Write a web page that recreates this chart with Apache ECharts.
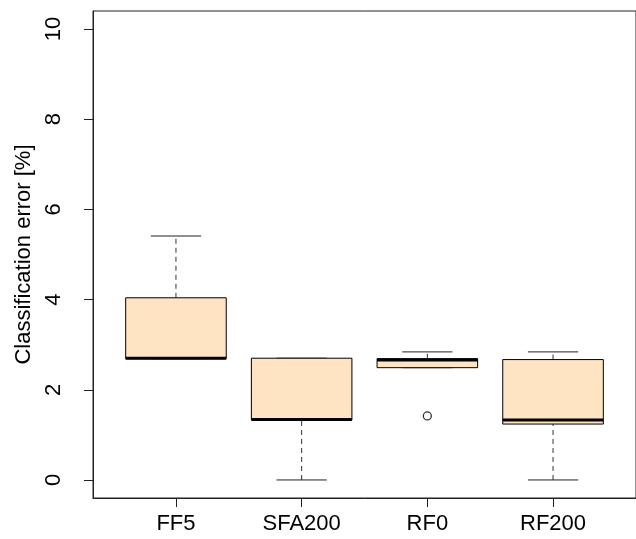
<!DOCTYPE html>
<html>
<head>
<meta charset="utf-8">
<title>Classification error</title>
<script src="https://cdn.jsdelivr.net/npm/echarts@6/dist/echarts.min.js"></script>
<style>
	html, body {
		margin: 0;
		padding: 0;
		background: #fff;
	}

	#chart {
		width: 636px;
		height: 539px;
	}
</style>
</head>
<body>
<div id="chart"></div>
<script>
	var categories = ['FF5', 'SFA200', 'RF0', 'RF200'];
	var minVals = [2.69, 0, 2.49, 0];
	var q1Vals = [2.69, 1.33, 2.49, 1.24];
	var medianVals = [2.70, 1.34, 2.66, 1.33];
	var q3Vals = [4.04, 2.70, 2.69, 2.67];
	var maxVals = [5.41, 2.70, 2.84, 2.84];
	// outliers: [group number, value]
	var outliers = [[3, 1.42]];
	var xTicks = [1, 2, 3, 4];
	var yTicks = [0, 2, 4, 6, 8, 10];

	var font = '"Liberation Sans", Arial, Helvetica, sans-serif';

	var boxData = categories.map(function(name, i) {
		return [i + 1, minVals[i], q1Vals[i], medianVals[i], q3Vals[i], maxVals[i]];
	});

	// R style box: dashed whiskers, staples, filled box, thick median
	function renderBox(params, api) {
		var x = api.value(0);
		var halfW = api.size([0.8, 0])[0] / 2;
		var pMin = api.coord([x, api.value(1)]);
		var pQ1 = api.coord([x, api.value(2)]);
		var pMed = api.coord([x, api.value(3)]);
		var pQ3 = api.coord([x, api.value(4)]);
		var pMax = api.coord([x, api.value(5)]);
		var cx = pMin[0];
		var dashed = {
			stroke: '#333',
			lineWidth: 1,
			lineDash: [5, 4]
		};
		var solid = {
			stroke: '#222',
			lineWidth: 1
		};
		return {
			type: 'group',
			children: [{
				type: 'line',
				shape: { x1: cx, y1: pQ3[1], x2: cx, y2: pMax[1] },
				style: dashed
			}, {
				type: 'line',
				shape: { x1: cx, y1: pMin[1], x2: cx, y2: pQ1[1] },
				style: dashed
			}, {
				type: 'line',
				shape: { x1: cx - halfW / 2, y1: pMax[1], x2: cx + halfW / 2, y2: pMax[1] },
				style: solid
			}, {
				type: 'line',
				shape: { x1: cx - halfW / 2, y1: pMin[1], x2: cx + halfW / 2, y2: pMin[1] },
				style: solid
			}, {
				type: 'rect',
				shape: { x: cx - halfW, y: pQ3[1], width: halfW * 2, height: pQ1[1] - pQ3[1] },
				style: {
					fill: '#FFE4C4',
					stroke: '#000',
					lineWidth: 1
				}
			}, {
				type: 'line',
				shape: { x1: cx - halfW, y1: pMed[1], x2: cx + halfW, y2: pMed[1] },
				style: {
					stroke: '#000',
					lineWidth: 3
				}
			}]
		};
	}

	var chart = echarts.init(document.getElementById('chart'), null, {
		renderer: 'canvas'
	});

	chart.setOption({
		animation: false,
		backgroundColor: '#fff',
		grid: {
			left: 93,
			top: 11,
			right: -1,
			bottom: 41,
			show: true,
			borderColor: '#222',
			borderWidth: 1,
			backgroundColor: 'transparent'
		},
		xAxis: {
			type: 'value',
			min: 0.34,
			max: 4.66,
			axisLine: {
				show: true,
				onZero: false,
				lineStyle: { color: '#222', width: 1 }
			},
			axisTick: {
				show: true,
				customValues: xTicks,
				length: 9,
				lineStyle: { color: '#222' }
			},
			axisLabel: {
				customValues: xTicks,
				formatter: function(v) {
					return categories[v - 1];
				},
				margin: 15,
				color: '#000',
				fontSize: 22,
				fontFamily: font
			},
			splitLine: { show: false }
		},
		yAxis: {
			type: 'value',
			min: -0.4,
			max: 10.4,
			name: 'Classification error [%]',
			nameLocation: 'middle',
			nameRotate: 90,
			nameGap: 57,
			nameTextStyle: {
				color: '#000',
				fontSize: 22,
				fontFamily: font
			},
			axisLine: {
				show: true,
				onZero: false,
				lineStyle: { color: '#222', width: 1 }
			},
			axisTick: {
				show: true,
				customValues: yTicks,
				length: 9,
				lineStyle: { color: '#222' }
			},
			axisLabel: {
				customValues: yTicks,
				rotate: 90,
				margin: 28,
				color: '#000',
				fontSize: 22,
				fontFamily: font
			},
			splitLine: { show: false }
		},
		series: [{
			type: 'custom',
			renderItem: renderBox,
			data: boxData,
			encode: { x: 0, y: [1, 2, 3, 4, 5] }
		}, {
			type: 'scatter',
			data: outliers,
			symbol: 'circle',
			symbolSize: 8,
			itemStyle: {
				color: 'transparent',
				borderColor: '#000',
				borderWidth: 1.3
			}
		}]
	});
</script>
</body>
</html>
